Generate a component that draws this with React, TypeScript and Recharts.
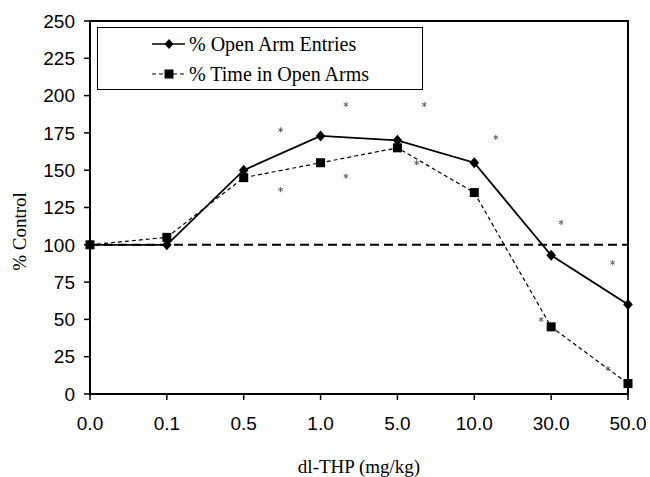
import React from 'react';
import {
  ComposedChart,
  Line,
  Scatter,
  XAxis,
  YAxis,
  ReferenceLine,
  ReferenceArea,
  Label,
} from 'recharts';

// dl-THP doses (mg/kg), plotted as evenly spaced categories
const doseLabels = ['0.0', '0.1', '0.5', '1.0', '5.0', '10.0', '30.0', '50.0'];

// Elevated plus maze measures, as % of control
const openArmEntries = [100, 100, 150, 173, 170, 155, 93, 60];
const timeInOpenArms = [100, 105, 145, 155, 165, 135, 45, 7];

const controlLevel = 100;
const yTicks = [0, 25, 50, 75, 100, 125, 150, 175, 200, 225, 250];

// Significance markers (position along dose axis, % control)
const starDose = [2.48, 2.48, 3.33, 3.33, 4.35, 4.25, 5.28, 6.13, 6.8, 5.87, 6.74];
const starLevel = [177, 137, 194, 146, 194, 155, 172, 115, 88, 50, 17];

const entriesData = doseLabels.map((_, i) => ({ x: i, v: openArmEntries[i] }));
const timeData = doseLabels.map((_, i) => ({ x: i, v: timeInOpenArms[i] }));
const starData = starDose.map((d, i) => ({ x: d, y: starLevel[i] }));

const SANS = "'Liberation Sans', Arial, sans-serif";
const SERIF = "'Liberation Serif', 'Times New Roman', serif";

const Diamond = (props: any) => {
  const { cx, cy } = props;
  if (cx == null || cy == null) return null;
  return (
    <polygon
      points={`${cx},${cy - 5.5} ${cx + 4.8},${cy} ${cx},${cy + 5.5} ${cx - 4.8},${cy}`}
      fill="#000"
    />
  );
};

const Square = (props: any) => {
  const { cx, cy } = props;
  if (cx == null || cy == null) return null;
  return <rect x={cx - 4.5} y={cy - 4.5} width={9} height={9} fill="#000" />;
};

// Small six-armed star used as a significance mark
const Asterisk = (props: any) => {
  const { cx, cy } = props;
  if (cx == null || cy == null) return null;
  const r = 2.6;
  const dx = r * 0.866;
  const dy = r * 0.5;
  return (
    <g stroke="#555" strokeWidth={0.9}>
      <line x1={cx} y1={cy - r} x2={cx} y2={cy + r} />
      <line x1={cx - dx} y1={cy - dy} x2={cx + dx} y2={cy + dy} />
      <line x1={cx - dx} y1={cy + dy} x2={cx + dx} y2={cy - dy} />
    </g>
  );
};

const LegendBox = () => (
  <div
    style={{
      position: 'absolute',
      left: 97,
      top: 27,
      width: 324,
      height: 61,
      border: '1.5px solid #000',
      background: '#fff',
      fontFamily: SERIF,
      fontSize: 20,
      color: '#000',
    }}
  >
    <svg width={40} height={61} style={{ position: 'absolute', left: 52, top: 0 }}>
      <line x1={2} y1={16} x2={35} y2={16} stroke="#000" strokeWidth={1.6} />
      <polygon points="19,11 23.5,16 19,21 14.5,16" fill="#000" />
      <line x1={2} y1={46} x2={35} y2={46} stroke="#000" strokeWidth={1.2} strokeDasharray="4 3" />
      <rect x={14.5} y={41.5} width={9} height={9} fill="#000" />
    </svg>
    <span style={{ position: 'absolute', left: 91, top: 4, lineHeight: '24px', whiteSpace: 'nowrap' }}>
      % Open Arm Entries
    </span>
    <span style={{ position: 'absolute', left: 91, top: 34, lineHeight: '24px', whiteSpace: 'nowrap' }}>
      % Time in Open Arms
    </span>
  </div>
);

export default function App() {
  return (
    <div style={{ position: 'absolute', left: 0, top: 0, width: 650, height: 477, background: '#fff' }}>
      <ComposedChart
        width={650}
        height={477}
        margin={{ top: 21, right: 22, left: 0, bottom: 0 }}
      >
        <XAxis
          dataKey="x"
          type="number"
          domain={[0, doseLabels.length - 1]}
          ticks={doseLabels.map((_, i) => i)}
          interval={0}
          tickFormatter={(i: number) => doseLabels[i]}
          height={83}
          axisLine={{ stroke: '#000', strokeWidth: 2 }}
          tickLine={{ stroke: '#000', strokeWidth: 1.5 }}
          tickSize={6}
          tickMargin={17}
          tick={{ fill: '#000', fontFamily: SANS, fontSize: 19 }}
        >
          <Label
            content={(p: any) => {
              const vb = p.viewBox;
              return (
                <text
                  x={vb.x + vb.width / 2}
                  y={vb.y + 79}
                  textAnchor="middle"
                  fontFamily={SERIF}
                  fontSize={19}
                  fill="#000"
                >
                  dl-THP (mg/kg)
                </text>
              );
            }}
          />
        </XAxis>
        <YAxis
          type="number"
          domain={[0, 250]}
          ticks={yTicks}
          interval={0}
          width={90}
          axisLine={{ stroke: '#000', strokeWidth: 2 }}
          tickLine={{ stroke: '#000', strokeWidth: 1.5 }}
          tickSize={6}
          tickMargin={9}
          tick={{ fill: '#000', fontFamily: SANS, fontSize: 19 }}
        >
          <Label
            content={(p: any) => {
              const vb = p.viewBox;
              const x = vb.x + 26;
              const y = vb.y + vb.height / 2 + 24;
              return (
                <text
                  x={x}
                  y={y}
                  transform={`rotate(-90, ${x}, ${y})`}
                  textAnchor="middle"
                  fontFamily={SERIF}
                  fontSize={19}
                  fill="#000"
                >
                  % Control
                </text>
              );
            }}
          />
        </YAxis>
        <ReferenceArea
          x1={0}
          x2={doseLabels.length - 1}
          y1={0}
          y2={250}
          fill="none"
          stroke="#000"
          strokeWidth={2}
          ifOverflow="visible"
        />
        <ReferenceLine y={controlLevel} stroke="#000" strokeWidth={2} strokeDasharray="9 5" />
        <Line
          data={timeData}
          dataKey="v"
          name="% Time in Open Arms"
          stroke="#000"
          strokeWidth={1.2}
          strokeDasharray="4 3"
          dot={<Square />}
          activeDot={false}
          isAnimationActive={false}
        />
        <Line
          data={entriesData}
          dataKey="v"
          name="% Open Arm Entries"
          stroke="#000"
          strokeWidth={1.8}
          dot={<Diamond />}
          activeDot={false}
          isAnimationActive={false}
        />
        <Scatter
          data={starData}
          dataKey="y"
          shape={<Asterisk />}
          legendType="none"
          isAnimationActive={false}
        />
      </ComposedChart>
      <LegendBox />
    </div>
  );
}
